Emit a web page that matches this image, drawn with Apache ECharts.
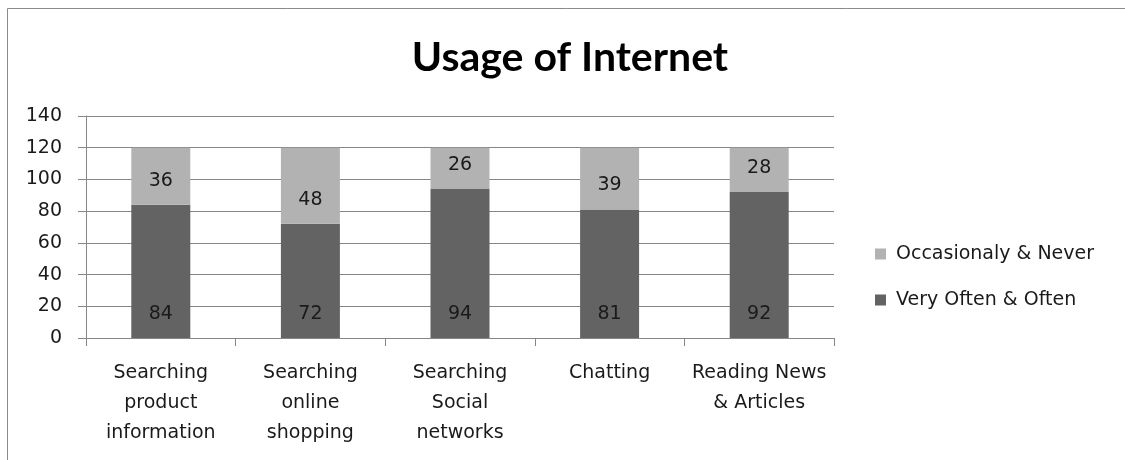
<!DOCTYPE html>
<html>
<head>
<meta charset="utf-8">
<script src="https://cdn.jsdelivr.net/npm/echarts@6/dist/echarts.min.js"></script>
<style>
html,body{margin:0;padding:0;background:#fff;}
#main{width:1125px;height:460px;}
</style>
</head>
<body>
<div id="main"></div>
<script>
var categories = ['Searching\nproduct\ninformation', 'Searching\nonline\nshopping', 'Searching\nSocial\nnetworks', 'Chatting', 'Reading News\n& Articles'];
var oftenValues = [84, 72, 94, 81, 92];
var occasionalValues = [36, 48, 26, 39, 28];
var seriesNames = ['Very Often & Often', 'Occasionaly & Never'];
var titleText = 'Usage of Internet';

var FONT = 'DejaVu Sans';
var chart = echarts.init(document.getElementById('main'));
var labelCfg = {
  show: true,
  position: 'insideBottom',
  distance: 14,
  fontFamily: FONT,
  fontSize: 19,
  lineHeight: 20,
  color: '#1a1a1a'
};
chart.setOption({
  animation: false,
  backgroundColor: '#fff',
  graphic: [{
    type: 'rect',
    shape: { x: 7.5, y: 8.5, width: 1300, height: 600 },
    style: { fill: 'none', stroke: '#8a8a8a', lineWidth: 1 },
    silent: true
  }],
  title: {
    text: titleText,
    left: 570,
    textAlign: 'center',
    top: 37,
    padding: 0,
    textStyle: { fontFamily: 'Lato', fontWeight: 'bold', fontSize: 41, color: '#000' }
  },
  legend: {
    orient: 'vertical',
    left: 875,
    top: 243,
    padding: 0,
    itemWidth: 11,
    itemHeight: 11,
    itemGap: 24,
    icon: 'rect',
    data: [seriesNames[1], seriesNames[0]],
    textStyle: { fontFamily: FONT, fontSize: 19, lineHeight: 22, color: '#1a1a1a', padding: [0, 0, 0, 5] }
  },
  grid: { left: 86, right: 291, top: 116, bottom: 122 },
  xAxis: {
    type: 'category',
    data: categories,
    axisLine: { lineStyle: { color: '#868686', width: 1 } },
    axisTick: { show: true, length: 8, lineStyle: { color: '#868686' } },
    axisLabel: { fontFamily: FONT, fontSize: 19, lineHeight: 30, color: '#1a1a1a', margin: 20, interval: 0 }
  },
  yAxis: {
    type: 'value',
    min: 0,
    max: 140,
    interval: 20,
    axisLine: { show: true, lineStyle: { color: '#868686', width: 1 } },
    axisTick: { show: true, length: 8, inside: false, lineStyle: { color: '#868686' } },
    axisLabel: { fontFamily: FONT, fontSize: 19, color: '#1a1a1a', margin: 24 },
    splitLine: { show: true, lineStyle: { color: '#868686', width: 1 } }
  },
  series: [{
    name: seriesNames[0],
    type: 'bar',
    stack: 'total',
    barWidth: 59,
    data: oftenValues,
    itemStyle: { color: '#636363' },
    label: labelCfg
  }, {
    name: seriesNames[1],
    type: 'bar',
    stack: 'total',
    barWidth: 59,
    data: occasionalValues,
    itemStyle: { color: '#b2b2b2' },
    label: labelCfg
  }]
});
</script>
</body>
</html>
